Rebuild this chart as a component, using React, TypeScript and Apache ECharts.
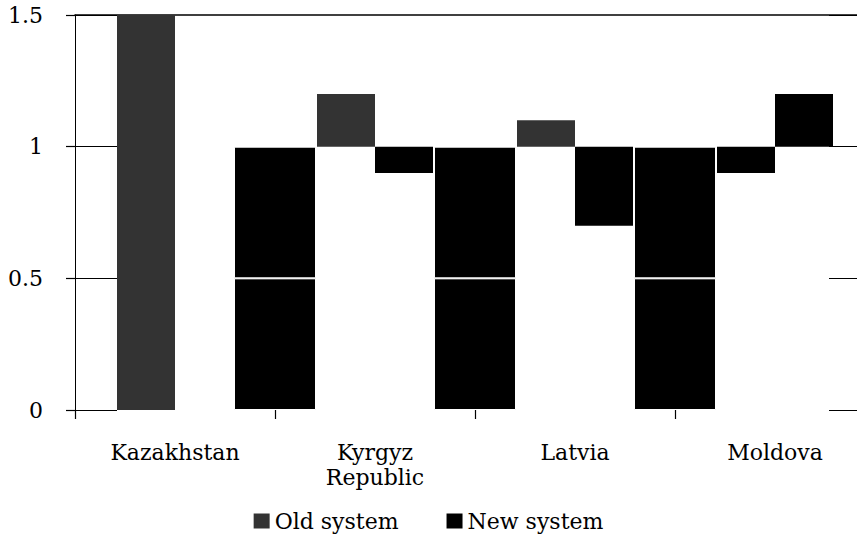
import React, { useEffect, useRef } from 'react';
import * as echarts from 'echarts';

// ---- data ----
const categories = ['Kazakhstan', 'Kyrgyz\nRepublic', 'Latvia', 'Moldova'];
const oldStart = [0, 1.0, 1.0, 0.9];
const oldEnd = [1.5, 1.2, 1.1, 1.0];
const newStart: (number | null)[] = [null, 0.9, 0.7, 1.0];
const newEnd: (number | null)[] = [null, 1.0, 1.0, 1.2];
const boundarySlots = ['', '', '', '', ''];
const boundaryValues: (number | null)[] = [null, 1, 1, 1, null];
const yMin = 0;
const yMax = 1.5;
const yStep = 0.5;

const FONT = 'DejaVu Serif';

export default function App() {
  const ref = useRef<HTMLDivElement>(null);

  useEffect(() => {
    if (!ref.current) return;
    const chart = echarts.init(ref.current, undefined, { renderer: 'svg' });

    const oldData = oldEnd.map((e, i) => {
      const v = Math.round((e - oldStart[i]) * 1000) / 1000;
      return categories[i] === 'Moldova' ? { value: v, itemStyle: { color: '#000' } } : v;
    });
    const newData = newEnd.map((e, i) =>
      e == null || newStart[i] == null ? null : Math.round((e - (newStart[i] as number)) * 1000) / 1000
    );
    const splitAt = 0.5;
    const refLow = boundaryValues.map((v) => (v == null ? null : Math.min(v, splitAt)));
    const refHigh = boundaryValues.map((v) => (v == null ? null : Math.max(v - splitAt, 0)));

    const baseStyle = { color: 'rgba(0,0,0,0)' };
    const refStyle = { color: '#000', borderColor: '#fff', borderWidth: 1 };

    const yCommon = { type: 'value', min: yMin, max: yMax, interval: yStep, splitLine: { show: false } };

    chart.setOption({
      animation: false,
      backgroundColor: '#fff',
      grid: { left: 75, top: 15, width: 800, height: 395, containLabel: false, outerBoundsMode: 'none' },
      legend: {
        data: ['Old system', 'New system'],
        left: 'center',
        top: 505,
        itemWidth: 16,
        itemHeight: 15,
        itemGap: 48,
        icon: 'rect',
        textStyle: { fontFamily: FONT, fontSize: 22, color: '#000' },
      },
      xAxis: [
        {
          type: 'category',
          data: categories,
          position: 'bottom',
          axisLine: { show: false, onZero: false },
          axisTick: { show: true, length: 9, lineStyle: { color: '#000', width: 1.2 } },
          axisLabel: {
            fontFamily: FONT,
            fontSize: 22,
            color: '#000',
            margin: 30,
            lineHeight: 25,
            interval: 0,
          },
        },
        {
          type: 'category',
          data: boundarySlots,
          boundaryGap: false,
          position: 'top',
          axisLine: { show: true, onZero: false, lineStyle: { color: '#000', width: 1.5 } },
          axisTick: { show: false },
          axisLabel: { show: false },
        },
      ],
      yAxis: [
        {
          ...yCommon,
          position: 'left',
          axisLine: { show: true, onZero: false, lineStyle: { color: '#000', width: 1 } },
          axisTick: { show: true, length: 9, lineStyle: { color: '#000', width: 1.2 } },
          axisLabel: { fontFamily: FONT, fontSize: 22, color: '#000', margin: 32 },
        },
        {
          ...yCommon,
          position: 'left',
          axisLine: { show: false, onZero: false },
          axisTick: { show: true, inside: true, length: 42, lineStyle: { color: '#000', width: 1.2 } },
          axisLabel: { show: false },
        },
        {
          ...yCommon,
          position: 'right',
          axisLine: { show: false, onZero: false },
          axisTick: { show: true, inside: true, length: 46, lineStyle: { color: '#000', width: 1.2 } },
          axisLabel: { show: false },
        },
      ],
      series: [
        {
          name: '_oldBase', type: 'bar', stack: 'old', xAxisIndex: 0, yAxisIndex: 0,
          data: oldStart, itemStyle: baseStyle, barWidth: 58, barGap: '0%', silent: true,
        },
        {
          name: 'Old system', type: 'bar', stack: 'old', xAxisIndex: 0, yAxisIndex: 0,
          data: oldData, itemStyle: { color: '#333' }, barWidth: 58, barGap: '0%',
        },
        {
          name: '_newBase', type: 'bar', stack: 'new', xAxisIndex: 0, yAxisIndex: 0,
          data: newStart, itemStyle: baseStyle, barWidth: 58, barGap: '0%', silent: true,
        },
        {
          name: 'New system', type: 'bar', stack: 'new', xAxisIndex: 0, yAxisIndex: 0,
          data: newData, itemStyle: { color: '#000' }, barWidth: 58, barGap: '0%',
        },
        {
          name: '_refLow', type: 'bar', stack: 'ref', xAxisIndex: 1, yAxisIndex: 0,
          data: refLow, itemStyle: refStyle, barWidth: 82, silent: true,
        },
        {
          name: '_refHigh', type: 'bar', stack: 'ref', xAxisIndex: 1, yAxisIndex: 0,
          data: refHigh, itemStyle: refStyle, barWidth: 82, silent: true,
        },
      ],
    });

    return () => chart.dispose();
  }, []);

  return (
    <div
      ref={ref}
      style={{ position: 'absolute', left: 0, top: 0, width: 857, height: 534, background: '#fff' }}
    />
  );
}
